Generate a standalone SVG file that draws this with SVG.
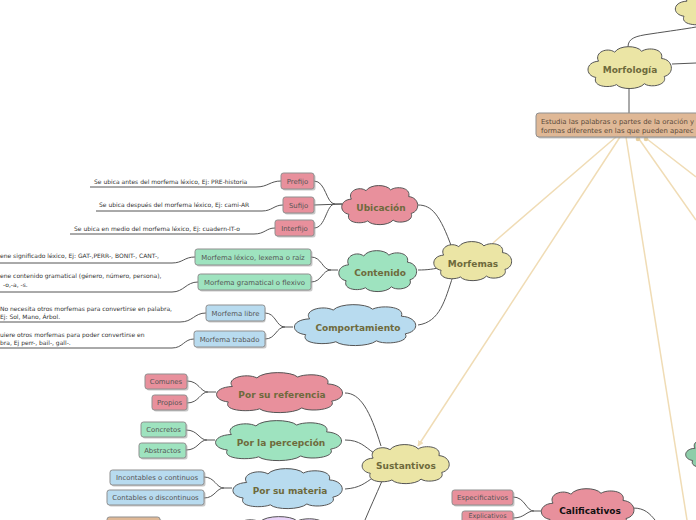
<svg xmlns="http://www.w3.org/2000/svg" xmlns:xlink="http://www.w3.org/1999/xlink" width="696" height="520" viewBox="0 0 696 520">
<style>
.cl{stroke:#555;stroke-width:1}
.pk{fill:#e8909c}.gr{fill:#9ee3bf}.bl{fill:#b8dbef}.ye{fill:#ebe5a5}.tn{fill:#dfb896}.pu{fill:#e8d2f7}.dg{fill:#8dcda9}
.ct{font-family:"DejaVu Sans",Verdana,sans-serif;font-weight:bold;font-size:9px;fill:#6e6a3c;text-anchor:middle}
.bx{stroke:#8f8f8f;stroke-width:1}
.sh{fill:#9a9a9a;opacity:.55}
.bt{font-family:"DejaVu Sans",Verdana,sans-serif;font-size:6.9px;fill:#555;text-anchor:middle}
.lt{font-family:"DejaVu Sans",Verdana,sans-serif;font-size:6px;fill:#333}
.et{font-family:"DejaVu Sans",Verdana,sans-serif;font-size:6.9px;fill:#5a4a3a}
.cn{fill:none;stroke:#555;stroke-width:1}
.bg{fill:none;stroke:#f0dcb5;stroke-width:1.5}
</style>
<defs>
<path id="cloud" vector-effect="non-scaling-stroke" d="M15,18 C10,8 25,2 33,8 C38,0 58,0 63,7 C70,2 88,4 85,15 C98,16 100,32 88,35 C92,45 72,48 66,43 C60,50 40,50 35,44 C28,48 8,47 12,36 C0,34 0,19 15,18 Z"/>
<marker id="ah" viewBox="0 0 10 10" refX="9" refY="5" markerWidth="6" markerHeight="6" orient="auto" markerUnits="userSpaceOnUse">
<path d="M0,0 L10,5 L0,10 Z" fill="#f0dcb5"/>
</marker>
</defs>
<rect width="696" height="520" fill="#fff"/>

<g id="connectors">
<path class="bg" d="M616,137 L493,243"/>
<path class="bg" d="M620,137 L418,446" marker-end="url(#ah)"/>
<path class="bg" d="M626,137 L687,520"/>
<path class="bg" d="M639,139 L696,220"/>
<path class="bg" d="M647,139 L696,177"/>
<circle cx="638" cy="139" r="2.3" fill="#e8cf9f"/>
<circle cx="646" cy="139" r="2.3" fill="#e8cf9f"/>
<path class="cn" d="M628,47 C628,38 636,36 650,34 C670,31 685,29 696,27"/>
<path class="cn" d="M672,64 L696,63"/>
<path class="cn" d="M629,88 L629,113"/>
<path class="cn" d="M418,205 C432,205 440,215 452,248"/>
<path class="cn" d="M418,270 C428,270 434,269 442,267"/>
<path class="cn" d="M418,325 C440,322 445,300 453,276"/>
<path class="cn" d="M314,181 C326,181 326,204 335,204 L342,204"/>
<path class="cn" d="M314,205 L342,204"/>
<path class="cn" d="M314,228 C326,228 326,204 335,204"/>
<path class="cn" d="M90,187 L256,187 C268,187 270,181 281,181"/>
<path class="cn" d="M96,211 L262,211 C272,211 274,205 283,205"/>
<path class="cn" d="M70,234 L254,234 C265,234 266,228 275,228"/>
<path class="cn" d="M311,257 C322,257 322,270 331,270 L338,270"/>
<path class="cn" d="M311,282 C322,282 322,270 331,270"/>
<path class="cn" d="M0,263 L172,263 C183,263 184,257 195,257"/>
<path class="cn" d="M0,292 L172,292 C184,292 186,282 198,282"/>
<path class="cn" d="M265,313 C276,313 276,327 285,327 L293,327"/>
<path class="cn" d="M265,339 C276,339 276,327 285,327"/>
<path class="cn" d="M0,322 L180,322 C193,322 194,313 206,313"/>
<path class="cn" d="M0,348 L172,348 C183,348 184,339 194,339"/>
<path class="cn" d="M345,393 C360,393 370,410 381,446"/>
<path class="cn" d="M345,440 C360,440 365,447 374,453"/>
<path class="cn" d="M345,489 C360,488 365,483 374,477"/>
<path class="cn" d="M382,481 C376,495 370,508 365,520"/>
<path class="cn" d="M187,381 C199,381 200,392 208,392 L216,392"/>
<path class="cn" d="M187,403 C199,403 200,392 208,392"/>
<path class="cn" d="M186,430 C198,430 199,440 207,440 L215,440"/>
<path class="cn" d="M186,450 C198,450 199,440 207,440"/>
<path class="cn" d="M204,477 C215,477 216,488 224,488 L232,488"/>
<path class="cn" d="M204,498 C215,498 216,488 224,488"/>
<path class="cn" d="M513,497 C525,497 526,511 534,511 L541,511"/>
<path class="cn" d="M513,518 C525,518 526,511 534,511"/>
<path class="cn" d="M633,508 C645,508 650,514 655,520"/>
</g>

<g id="n-top"><use xlink:href="#cloud" href="#cloud" class="cl ye" transform="translate(672,-14) scale(1,0.84)"/></g>
<g id="n-morfologia"><use href="#cloud" class="cl ye" transform="translate(585,45) scale(0.9,0.9)"/><text class="ct" x="630" y="73">Morfología</text></g>
<g id="n-estudia">
<rect class="sh" x="537.5" y="114.5" width="170" height="24" rx="3"/>
<rect class="bx tn" x="536" y="113" width="170" height="24" rx="3"/>
<text class="et" x="541" y="123.5">Estudia las palabras o partes de la oración y</text>
<text class="et" x="541" y="132.5">formas diferentes en las que pueden aparec</text>
</g>
<g id="n-morfemas"><use href="#cloud" class="cl ye" transform="translate(431,240) scale(0.84,0.84)"/><text class="ct" x="473" y="267">Morfemas</text></g>
<g id="n-ubicacion"><use href="#cloud" class="cl pk" transform="translate(339,184) scale(0.82,0.84)"/><text class="ct" x="381" y="211">Ubicación</text></g>
<g id="n-contenido"><use href="#cloud" class="cl gr" transform="translate(336,249) scale(0.84,0.88)"/><text class="ct" x="380" y="276">Contenido</text></g>
<g id="n-comportamiento"><use href="#cloud" class="cl bl" transform="translate(290,303) scale(1.31,0.88)"/><text class="ct" x="358" y="331">Comportamiento</text></g>

<g id="n-prefijo"><rect class="sh" x="282.5" y="174.5" width="33" height="16" rx="2.5"/><rect class="bx pk" x="281" y="173" width="33" height="16" rx="2.5"/><text class="bt" x="297.5" y="183.5">Prefijo</text></g>
<g id="n-sufijo"><rect class="sh" x="284.5" y="198.5" width="31" height="16" rx="2.5"/><rect class="bx pk" x="283" y="197" width="31" height="16" rx="2.5"/><text class="bt" x="298.5" y="207.5">Sufijo</text></g>
<g id="n-interfijo"><rect class="sh" x="276.5" y="221.5" width="39" height="16" rx="2.5"/><rect class="bx pk" x="275" y="220" width="39" height="16" rx="2.5"/><text class="bt" x="294.5" y="230.5">Interfijo</text></g>
<g id="n-lexico"><rect class="sh" x="196.5" y="250.5" width="116" height="16" rx="2.5"/><rect class="bx gr" x="195" y="249" width="116" height="16" rx="2.5"/><text class="bt" x="253" y="259.5">Morfema léxico, lexema o raíz</text></g>
<g id="n-gramatical"><rect class="sh" x="199.5" y="275.5" width="113" height="16" rx="2.5"/><rect class="bx gr" x="198" y="274" width="113" height="16" rx="2.5"/><text class="bt" x="254.5" y="284.5">Morfema gramatical o flexivo</text></g>
<g id="n-libre"><rect class="sh" x="207.5" y="306.5" width="58" height="16" rx="2.5"/><rect class="bx bl" x="206" y="305" width="59" height="16" rx="2.5"/><text class="bt" x="235.5" y="315.5">Morfema libre</text></g>
<g id="n-trabado"><rect class="sh" x="195.5" y="332.5" width="71" height="16" rx="2.5"/><rect class="bx bl" x="194" y="331" width="71" height="16" rx="2.5"/><text class="bt" x="229.5" y="341.5">Morfema trabado</text></g>

<g id="l-prefijo"><text class="lt" x="94" y="183.5">Se ubica antes del morfema léxico, Ej: PRE-historia</text></g>
<g id="l-sufijo"><text class="lt" x="99" y="207">Se ubica después del morfema léxico, Ej: cami-AR</text></g>
<g id="l-interfijo"><text class="lt" x="74" y="230.5">Se ubica en medio del morfema léxico, Ej: cuadern-IT-o</text></g>
<g id="l-lexico"><text class="lt" x="0" y="258">ene significado léxico, Ej: GAT-,PERR-, BONIT-, CANT-,</text></g>
<g id="l-gramatical"><text class="lt" x="0" y="278">ene contenido gramatical (género, número, persona),</text><text class="lt" x="3" y="287">-o,-a, -s.</text></g>
<g id="l-libre"><text class="lt" x="0" y="311">No necesita otros morfemas para convertirse en palabra,</text><text class="lt" x="0" y="319">Ej: Sol, Mano, Árbol.</text></g>
<g id="l-trabado"><text class="lt" x="0" y="337">uiere otros morfemas para poder convertirse en</text><text class="lt" x="0" y="345">bra, Ej perr-, bail-, gall-.</text></g>

<g id="n-sustantivos"><use href="#cloud" class="cl ye" transform="translate(359,443) scale(0.94,0.84)"/><text class="ct" x="406" y="469">Sustantivos</text></g>
<g id="n-referencia"><use href="#cloud" class="cl pk" transform="translate(212,371) scale(1.36,0.86)"/><text class="ct" x="282" y="398">Por su referencia</text></g>
<g id="n-percepcion"><use href="#cloud" class="cl gr" transform="translate(211,419) scale(1.36,0.86)"/><text class="ct" x="281" y="446">Por la percepción</text></g>
<g id="n-materia"><use href="#cloud" class="cl bl" transform="translate(229,467) scale(1.18,0.86)"/><text class="ct" x="290" y="494">Por su materia</text></g>
<g id="n-purple"><use href="#cloud" class="cl pu" transform="translate(219,515) scale(1.24,0.86)"/></g>

<g id="n-comunes"><rect class="sh" x="146.5" y="375.5" width="42" height="15" rx="2.5"/><rect class="bx pk" x="145" y="374" width="42" height="15" rx="2.5"/><text class="bt" x="166" y="384">Comunes</text></g>
<g id="n-propios"><rect class="sh" x="153.5" y="396.5" width="35" height="15" rx="2.5"/><rect class="bx pk" x="152" y="395" width="35" height="15" rx="2.5"/><text class="bt" x="169.5" y="405">Propios</text></g>
<g id="n-concretos"><rect class="sh" x="142.5" y="423.5" width="45" height="15" rx="2.5"/><rect class="bx gr" x="141" y="422" width="45" height="15" rx="2.5"/><text class="bt" x="163.5" y="432">Concretos</text></g>
<g id="n-abstractos"><rect class="sh" x="140.5" y="444.5" width="47" height="15" rx="2.5"/><rect class="bx gr" x="139" y="443" width="47" height="15" rx="2.5"/><text class="bt" x="162.5" y="453">Abstractos</text></g>
<g id="n-incontables"><rect class="sh" x="111.5" y="471.5" width="94" height="15" rx="2.5"/><rect class="bx bl" x="110" y="470" width="94" height="15" rx="2.5"/><text class="bt" x="157" y="480">Incontables o continuos</text></g>
<g id="n-contables"><rect class="sh" x="108.5" y="491.5" width="97" height="15" rx="2.5"/><rect class="bx bl" x="107" y="490" width="97" height="15" rx="2.5"/><text class="bt" x="155.5" y="500">Contables o discontinuos</text></g>
<g id="n-tan"><rect class="sh" x="108.5" y="518.5" width="53" height="15" rx="2.5"/><rect class="bx tn" x="107" y="517" width="53" height="15" rx="2.5"/></g>

<g id="n-calificativos"><use href="#cloud" class="cl pk" transform="translate(538,487) scale(1,0.9)"/><text class="ct" style="fill:#111" x="590" y="514">Calificativos</text></g>
<g id="n-especificativos"><rect class="sh" x="453.5" y="491.5" width="61" height="15" rx="2.5"/><rect class="bx pk" x="452" y="490" width="61" height="15" rx="2.5"/><text class="bt" x="482.5" y="500">Especificativos</text></g>
<g id="n-explicativos"><rect class="sh" x="463.5" y="512.5" width="51" height="15" rx="2.5"/><rect class="bx pk" x="462" y="511" width="51" height="15" rx="2.5"/><text class="bt" style="font-size:6.4px" x="487.5" y="518.3">Explicativos</text></g>
<g id="n-green-right"><use href="#cloud" class="cl dg" transform="translate(683,436) scale(0.8,0.68)"/></g>
</svg>
